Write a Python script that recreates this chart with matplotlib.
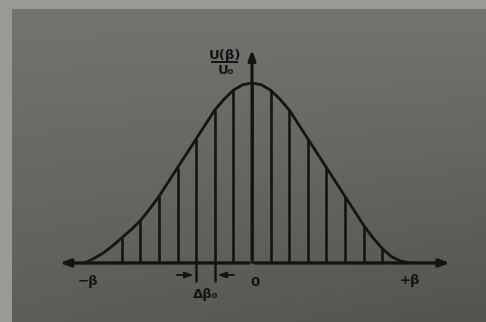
import numpy as np
import matplotlib
matplotlib.use("Agg")
import matplotlib.pyplot as plt

# Normalised amplitude U(beta)/U0 along the curve, sampled every half step of delta-beta0
curve_k = [-9.0, -8.5, -8.0, -7.5, -7.0, -6.5, -6.0, -5.5, -5.0, -4.5, -4.0, -3.5, -3.0,
           -2.5, -2.0, -1.5, -1.0, -0.5, 0.0, 0.5, 1.0, 1.5, 2.0, 2.5, 3.0, 3.5, 4.0,
           4.5, 5.0, 5.5, 6.0, 6.5, 7.0, 7.5, 8.0, 8.5]
curve_u = [0.0, 0.025, 0.055, 0.095, 0.14, 0.185, 0.235, 0.30, 0.37, 0.45, 0.53, 0.61, 0.69,
           0.77, 0.85, 0.91, 0.96, 0.99, 1.0, 0.99, 0.96, 0.91, 0.85, 0.77, 0.69, 0.61, 0.53,
           0.45, 0.37, 0.29, 0.21, 0.14, 0.08, 0.035, 0.01, 0.0]

# Discrete samples (ordinates) spaced by delta-beta0
sample_k = [-7, -6, -5, -4, -3, -2, -1, 0, 1, 2, 3, 4, 5, 6, 7]
sample_u = [0.14, 0.235, 0.37, 0.53, 0.69, 0.85, 0.96, 1.0, 0.96, 0.85, 0.69, 0.53, 0.37, 0.21, 0.08]

ink = "#141414"

fig = plt.figure(figsize=(4.86, 3.22), dpi=100)
fig.patch.set_facecolor("#9a9a94")
ax = fig.add_axes([0, 0, 1, 1])
ax.set_xlim(-13.55, 12.58)
ax.set_ylim(-0.328, 1.461)
ax.axis("off")

# Grey card behind the drawing, darkening towards the bottom right
ny, nx = 60, 80
yy = np.linspace(0, 1, ny)[:, None]
xx = np.linspace(0, 1, nx)[None, :]
top = np.array([0.45, 0.455, 0.44])
bot = np.array([0.33, 0.33, 0.31])
t = np.clip(0.7 * yy + 0.3 * xx * yy, 0, 1)[..., None]
grad = top * (1 - t) + bot * t
ax.imshow(grad, extent=[(12 - 252) / 18.6, 12.58, -0.328, (263 - 10) / 180],
          aspect="auto", zorder=0, interpolation="bilinear")

# Axes with arrowheads
head = "-|>,head_length=0.6,head_width=0.22"
ax.annotate("", xy=(-10.5, 0), xytext=(0, 0),
            arrowprops=dict(arrowstyle=head, color=ink, lw=2.4))
ax.annotate("", xy=(10.8, 0), xytext=(0, 0),
            arrowprops=dict(arrowstyle=head, color=ink, lw=2.4))
ax.annotate("", xy=(0, 1.2), xytext=(0, 0),
            arrowprops=dict(arrowstyle=head, color=ink, lw=2.2))

# Curve and sample lines
ax.plot(curve_k, curve_u, color=ink, lw=2.0, solid_capstyle="round", zorder=3)
ax.vlines(sample_k, 0, sample_u, color=ink, lw=1.9, zorder=3)

# Spacing dimension
ax.vlines([-3, -2], -0.105, 0, color=ink, lw=1.8)
small = "-|>,head_length=0.5,head_width=0.18"
ax.annotate("", xy=(-3, -0.067), xytext=(-4.2, -0.067),
            arrowprops=dict(arrowstyle=small, color=ink, lw=1.3))
ax.annotate("", xy=(-2, -0.067), xytext=(-0.8, -0.067),
            arrowprops=dict(arrowstyle=small, color=ink, lw=1.3))

fs = 9.5
ax.text(-2.5, -0.175, "Δβ₀", ha="center", va="center", fontsize=fs, fontweight="bold", color=ink)
ax.text(-8.8, -0.105, "−β", ha="center", va="center", fontsize=fs, fontweight="bold", color=ink)
ax.text(0.15, -0.11, "0", ha="center", va="center", fontsize=fs, fontweight="bold", color=ink)
ax.text(8.5, -0.095, "+β", ha="center", va="center", fontsize=fs, fontweight="bold", color=ink)

# Ordinate label as a fraction
ax.text(-1.45, 1.155, "U(β)", ha="center", va="center", fontsize=fs, fontweight="bold", color=ink)
ax.plot([-2.15, -0.8], [1.118, 1.118], color=ink, lw=1.4)
ax.text(-1.4, 1.07, "U₀", ha="center", va="center", fontsize=fs, fontweight="bold", color=ink)

fig.savefig("out.png", dpi=100, facecolor=fig.get_facecolor())
